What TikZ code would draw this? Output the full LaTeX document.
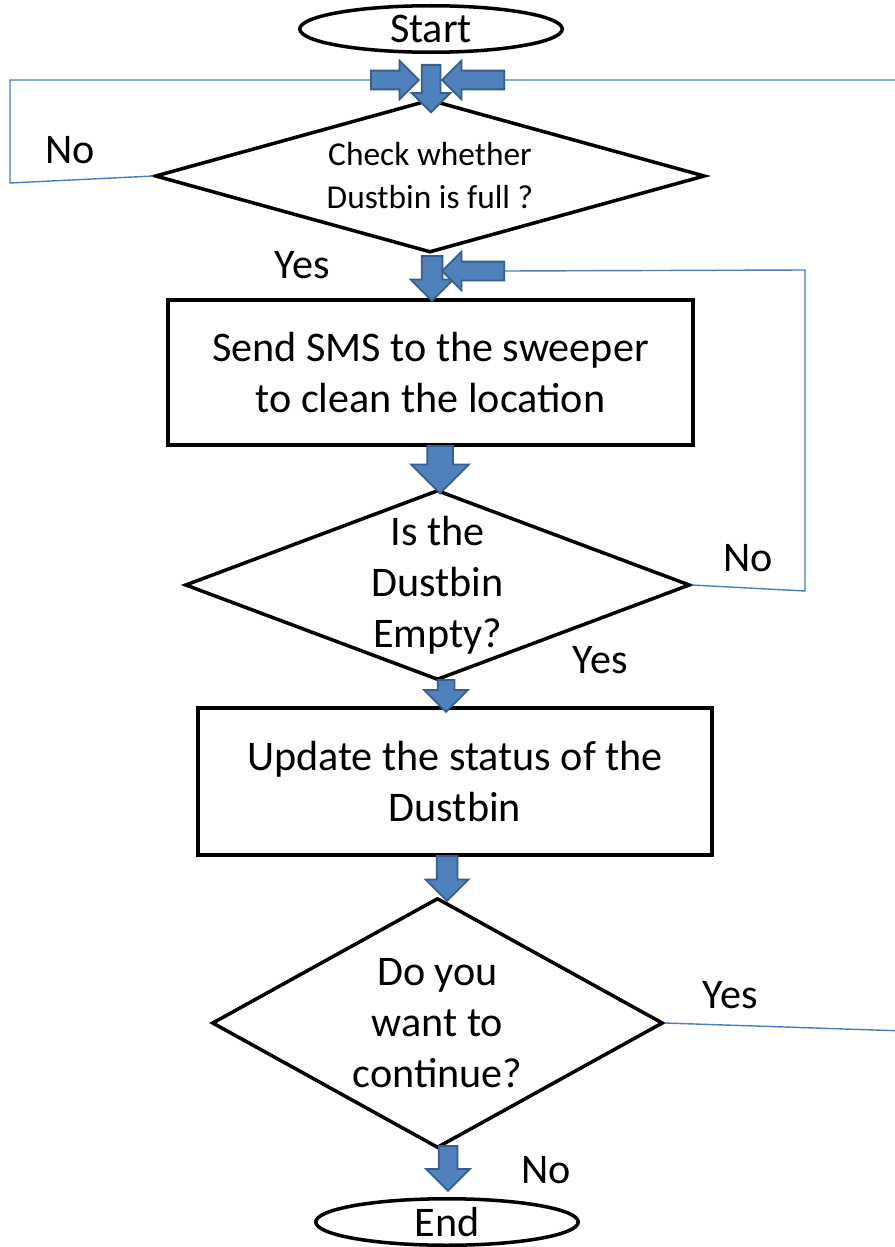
\documentclass[tikz,border=0pt]{standalone}
\usepackage{fontspec}
\setmainfont{Carlito}
\usetikzlibrary{shapes.geometric,shapes.arrows}
\definecolor{arrowfill}{HTML}{4F81BD}
\definecolor{arrowedge}{HTML}{385D8A}
\definecolor{flowline}{HTML}{4A7EBB}

\begin{document}
\begin{tikzpicture}[x=0.02cm, y=-0.02cm]
	\tikzstyle{every node}=[inner sep=1pt, align=center, font=\fontsize{24}{29}\selectfont]
	\tikzstyle{term}=[ellipse, draw, line width=2pt, inner sep=0pt, minimum width=5.25cm, minimum height=0.93cm]
	\tikzstyle{proc}=[rectangle, draw, line width=2pt]
	\tikzstyle{dec}=[diamond, draw, line width=2pt, inner sep=0pt]
	\tikzstyle{flow}=[draw=flowline, line width=0.8pt]
	\tikzstyle{blk}=[single arrow, draw=arrowedge, fill=arrowfill, line width=1pt, inner sep=0.17cm, single arrow head extend=0.2cm, minimum height=0.95cm]
	\tikzstyle{darr}=[blk, rotate=-90, anchor=tail]
	\useasboundingbox (0,0) rectangle (894,1247);
	% boxes
	\node[term] (start) at (431,29) {Start};
	\node[dec, minimum width=11cm, minimum height=3.06cm] (full) at (430,176) {};
	\node[font=\fontsize{19}{24.5}\selectfont] (fulltxt) at (full) {Check whether\\Dustbin is full ?};
	\node[proc, minimum width=10.5cm, minimum height=2.9cm] (sms) at (430.5,372.5) {Send SMS to the sweeper\\to clean the location};
	\node[dec, minimum width=10.1cm, minimum height=3.8cm] (empty) at (437.5,585) {};
	\node (emptytxt) at (empty) {Is the\\Dustbin\\Empty?};
	\node[proc, minimum width=10.28cm, minimum height=2.94cm] (update) at (455,781.5) {Update the status of the\\Dustbin};
	\node[dec, minimum width=9.02cm, minimum height=5cm] (cont) at (437.5,1023) {};
	\node (conttxt) at (cont) {Do you\\want to\\continue?};
	\node[term] (end) at (447,1222) {End};
	% block arrows
	\node[blk, anchor=tail, minimum height=0.96cm] (inL) at (370,80) {};
	\node[blk, anchor=tail, rotate=180, minimum height=1.24cm] (inR) at (505,80) {};
	\node[darr] (a1) at (431,64) {};
	\node[darr, minimum height=0.9cm, inner sep=0.19cm, single arrow head extend=0.22cm] (a2) at (432,255) {};
	\node[blk, anchor=tail, rotate=180, minimum height=1.24cm] (back) at (505,271) {};
	\node[darr, inner sep=0.24cm, single arrow head extend=0.32cm] (a3) at (440,445) {};
	\node[darr, minimum height=0.64cm, inner sep=0.15cm, single arrow head extend=0.27cm] (a4) at (446,679) {};
	\node[darr, minimum height=0.9cm, inner sep=0.19cm, single arrow head extend=0.22cm] (a5) at (447,855) {};
	\node[darr, minimum height=0.9cm, inner sep=0.17cm, single arrow head extend=0.25cm] (a6) at (448,1145) {};
	% loop lines
	\draw[flow] (full.west) -- (10,183) -- (10,80) -- (inL.tail);
	\draw[flow] (cont.east) -- (905,1031) |- (inR.tail);
	\draw[flow] (empty.east) -- (805,591) -- (805,270) -- (back.tail);
	% labels
	\node (no1) at (70,150) {No};
	\node (yes1) at (302,265) {Yes};
	\node (no2) at (748,558) {No};
	\node (yes2) at (600,660) {Yes};
	\node (yes3) at (730,995) {Yes};
	\node (no3) at (546,1170) {No};
\end{tikzpicture}
\end{document}
